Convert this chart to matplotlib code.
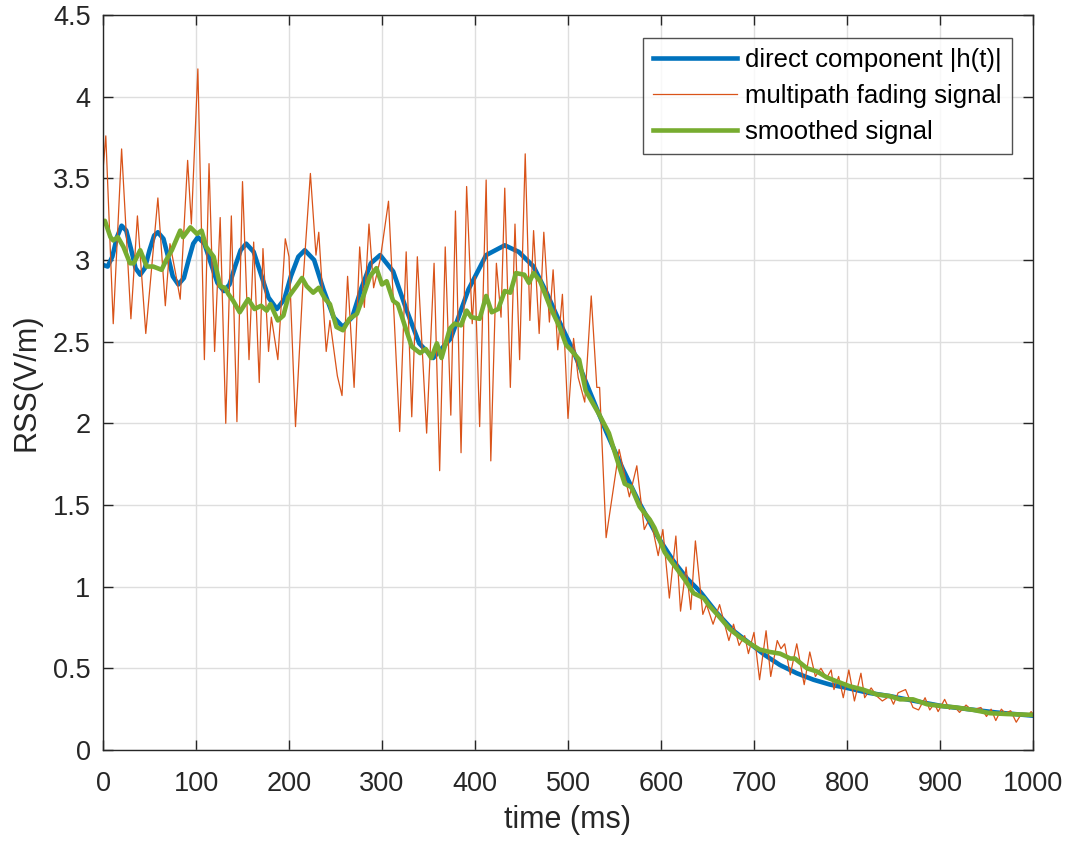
import matplotlib.pyplot as plt

# ------------------------------------------------------------------
# values
# ------------------------------------------------------------------
# direct component |h(t)|
direct_t = [0, 5, 10, 15, 20, 25, 30, 35, 40, 45, 50, 55, 59, 65, 70, 75, 81, 87, 92, 97,
            102, 109, 116, 123, 130, 136, 142, 148, 154, 162, 170, 178, 187, 195, 202, 210,
            217, 227, 237, 248, 258, 268, 278, 288, 298, 312, 326, 340, 355, 374, 393, 412,
            432, 447, 463, 477, 491, 506, 523, 541, 559, 577, 595, 613, 628, 642, 660, 678,
            696, 712, 728, 746, 764, 782, 800, 823, 846, 873, 901, 930, 960, 1000]
direct_v = [2.97, 2.96, 3.02, 3.14, 3.21, 3.18, 3.07, 2.95, 2.91, 2.95, 3.06, 3.15, 3.17, 3.13,
            3.02, 2.90, 2.85, 2.89, 3.00, 3.10, 3.14, 3.10, 2.98, 2.86, 2.81, 2.85, 2.96, 3.06,
            3.10, 3.05, 2.91, 2.77, 2.70, 2.76, 2.90, 3.02, 3.06, 3.00, 2.82, 2.65, 2.59, 2.65,
            2.83, 2.98, 3.03, 2.93, 2.70, 2.49, 2.40, 2.52, 2.82, 3.03, 3.09, 3.05, 2.96, 2.80,
            2.62, 2.44, 2.20, 1.95, 1.72, 1.51, 1.32, 1.16, 1.05, 0.97, 0.84, 0.73, 0.65, 0.58,
            0.52, 0.47, 0.43, 0.40, 0.38, 0.35, 0.33, 0.30, 0.27, 0.25, 0.23, 0.21]

# multipath fading signal (peaks and troughs)
fading_t = [0, 3, 11, 20, 30, 37, 46, 59, 67, 72, 78, 83, 91, 95, 102, 109, 114, 120, 126,
            132, 138, 144, 150, 157, 162, 168, 172, 178, 181, 188, 196, 200, 207, 215, 223,
            229, 232, 240, 244, 252, 257, 263, 270, 276, 281, 286, 291, 298, 307, 319, 326,
            332, 338, 348, 356, 362, 368, 374, 379, 385, 391, 397, 400, 405, 412, 417, 423,
            428, 432, 438, 443, 448, 454, 459, 463, 469, 474, 480, 484, 489, 494, 500, 506,
            511, 518, 525, 531, 534, 541, 555, 566, 574, 582, 588, 592, 597, 602, 609, 616,
            621, 627, 632, 637, 645, 649, 656, 663, 673, 678, 684, 690, 694, 700, 706, 713,
            718, 725, 729, 733, 739, 746, 754, 760, 766, 772, 778, 783, 786, 791, 796, 802,
            808, 815, 819, 826, 832, 838, 846, 850, 855, 863, 871, 877, 884, 889, 894, 898,
            905, 910, 915, 921, 928, 934, 944, 950, 955, 960, 966, 970, 976, 982, 988, 994,
            998, 1000]
fading_v = [3.55, 3.76, 2.61, 3.68, 2.64, 3.27, 2.55, 3.38, 2.72, 3.10, 2.92, 2.76, 3.61,
            3.22, 4.17, 2.39, 3.59, 2.44, 3.26, 2.00, 3.27, 2.01, 3.48, 2.39, 3.11, 2.25,
            3.07, 2.44, 2.65, 2.39, 3.13, 3.02, 1.98, 2.86, 3.53, 3.03, 3.17, 2.44, 2.63,
            2.29, 2.17, 2.90, 2.22, 3.08, 2.71, 3.22, 2.83, 3.00, 3.36, 1.95, 3.05, 2.04,
            3.02, 1.94, 2.98, 1.71, 3.08, 2.05, 3.30, 1.82, 3.45, 2.61, 2.90, 1.98, 3.49,
            1.77, 2.98, 2.65, 3.44, 2.22, 3.22, 2.39, 3.65, 2.63, 3.18, 2.55, 3.17, 2.62,
            2.94, 2.45, 2.79, 2.03, 2.52, 2.28, 2.13, 2.78, 2.22, 2.22, 1.30, 1.84, 1.55,
            1.74, 1.35, 1.42, 1.33, 1.19, 1.35, 0.93, 1.31, 0.85, 1.12, 0.86, 1.28, 0.83,
            0.89, 0.77, 0.89, 0.67, 0.77, 0.64, 0.70, 0.59, 0.72, 0.43, 0.73, 0.45, 0.67,
            0.62, 0.65, 0.46, 0.65, 0.40, 0.60, 0.45, 0.50, 0.44, 0.49, 0.37, 0.45, 0.32,
            0.49, 0.30, 0.47, 0.32, 0.38, 0.33, 0.30, 0.33, 0.28, 0.35, 0.37, 0.26, 0.245,
            0.32, 0.245, 0.285, 0.235, 0.31, 0.25, 0.27, 0.23, 0.275, 0.245, 0.26, 0.205,
            0.25, 0.18, 0.25, 0.225, 0.24, 0.17, 0.225, 0.205, 0.235, 0.22]

# smoothed signal
smooth_t = [0, 2, 8, 11, 16, 22, 29, 33, 40, 47, 54, 63, 68, 74, 83, 86, 94, 101, 106, 111,
            119, 126, 131, 135, 140, 147, 156, 163, 170, 176, 180, 188, 194, 199, 208, 214,
            219, 226, 232, 239, 244, 251, 258, 265, 273, 280, 287, 294, 300, 305, 312, 317,
            325, 332, 341, 347, 353, 359, 364, 373, 378, 385, 391, 396, 405, 412, 418, 425,
            432, 438, 444, 453, 458, 463, 470, 481, 491, 498, 503, 512, 519, 533, 544, 551,
            561, 568, 577, 588, 593, 604, 617, 626, 635, 646, 651, 662, 674, 685, 696, 706,
            717, 728, 739, 744, 757, 768, 778, 789, 803, 817, 832, 846, 857, 871, 886, 900,
            918, 936, 954, 972, 1000]
smooth_v = [3.23, 3.24, 3.14, 3.12, 3.14, 3.08, 2.98, 2.98, 3.06, 2.96, 2.96, 2.94, 3.00,
            3.06, 3.18, 3.14, 3.20, 3.16, 3.18, 3.08, 3.02, 2.84, 2.83, 2.79, 2.75, 2.68,
            2.76, 2.70, 2.72, 2.69, 2.73, 2.63, 2.66, 2.77, 2.84, 2.89, 2.84, 2.80, 2.83,
            2.76, 2.73, 2.59, 2.57, 2.64, 2.67, 2.78, 2.90, 2.95, 2.85, 2.87, 2.75, 2.73,
            2.59, 2.47, 2.43, 2.455, 2.40, 2.49, 2.40, 2.58, 2.61, 2.60, 2.69, 2.65, 2.64,
            2.78, 2.68, 2.70, 2.81, 2.80, 2.92, 2.91, 2.86, 2.92, 2.87, 2.71, 2.59, 2.48,
            2.45, 2.39, 2.20, 2.06, 1.94, 1.81, 1.63, 1.61, 1.49, 1.41, 1.36, 1.21, 1.11,
            1.04, 0.96, 0.93, 0.89, 0.82, 0.74, 0.69, 0.65, 0.615, 0.60, 0.59, 0.56, 0.56,
            0.50, 0.48, 0.445, 0.42, 0.39, 0.37, 0.34, 0.33, 0.31, 0.31, 0.28, 0.27, 0.26,
            0.245, 0.225, 0.22, 0.215]

x_ticks = [0, 100, 200, 300, 400, 500, 600, 700, 800, 900, 1000]
y_ticks = [0, 0.5, 1, 1.5, 2, 2.5, 3, 3.5, 4, 4.5]
y_tick_labels = ['0', '0.5', '1', '1.5', '2', '2.5', '3', '3.5', '4', '4.5']

# ------------------------------------------------------------------
# figure
# ------------------------------------------------------------------
plt.rcParams['font.family'] = ['Liberation Sans', 'DejaVu Sans']
AX_COLOR = '#262626'

fig = plt.figure(figsize=(10.73, 8.44), dpi=100)
ax = fig.add_axes([0.096, 0.1114, 0.8667, 0.8708])

ax.plot(direct_t, direct_v, color='#0072BD', linewidth=3.3, label='direct component |h(t)|')
ax.plot(fading_t, fading_v, color='#D95319', linewidth=0.9, label='multipath fading signal')
ax.plot(smooth_t, smooth_v, color='#77AC30', linewidth=3.3, label='smoothed signal')

ax.set_xlim(0, 1000)
ax.set_ylim(0, 4.5)
ax.set_xticks(x_ticks)
ax.set_yticks(y_ticks)
ax.set_yticklabels(y_tick_labels)

ax.grid(True, color='#dedede', linewidth=1.0)
ax.set_axisbelow(True)
ax.tick_params(direction='in', top=True, right=True, length=7, width=1.0,
               colors=AX_COLOR, labelsize=19.5)
ax.tick_params(axis='x', pad=15)
ax.tick_params(axis='y', pad=9)
for spine in ax.spines.values():
    spine.set_edgecolor(AX_COLOR)
    spine.set_linewidth(1.0)

ax.set_xlabel('time (ms)', fontsize=22, color=AX_COLOR, labelpad=6)
ax.set_ylabel('RSS(V/m)', fontsize=22, color=AX_COLOR, labelpad=8)

leg = ax.legend(loc='upper right', bbox_to_anchor=(0.977, 0.969), borderaxespad=0,
                fontsize=18.5, frameon=True, fancybox=False, handlelength=3.3,
                handletextpad=0.3, labelspacing=0.48, borderpad=0.38)
leg.get_frame().set_edgecolor(AX_COLOR)
leg.get_frame().set_linewidth(1.0)
for txt in leg.get_texts():
    txt.set_color('black')

plt.savefig('out.png', dpi=100)
